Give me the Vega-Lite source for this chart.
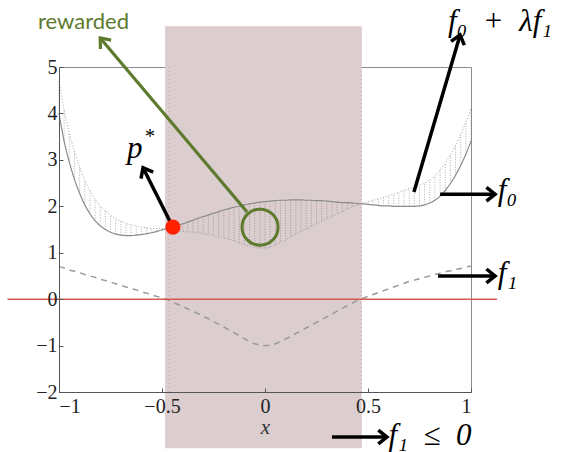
{
  "$schema": "https://vega.github.io/schema/vega-lite/v6.json",
  "width": 412,
  "height": 325,
  "autosize": {"type": "none"},
  "padding": {"left": 59, "top": 67, "right": 96, "bottom": 60},
  "background": "white",
  "config": {
    "view": {"stroke": "#8c8c8c", "strokeWidth": 1},
    "axis": {
      "grid": false,
      "domainColor": "#555555",
      "tickColor": "#555555",
      "tickSize": -4,
      "labelFont": "Liberation Serif",
      "labelFontSize": 20,
      "labelColor": "#222222",
      "titleFont": "Liberation Serif",
      "titleFontStyle": "italic",
      "titleFontWeight": "normal",
      "titleFontSize": 21,
      "titleColor": "#333333"
    }
  },
  "datasets": {
    "curves": [
      {"x": -1.000, "f0": 4.00, "f1": 0.70, "g": 4.70},
      {"x": -0.975, "f0": 3.40, "f1": 0.67, "g": 4.07},
      {"x": -0.950, "f0": 2.95, "f1": 0.63, "g": 3.58},
      {"x": -0.925, "f0": 2.58, "f1": 0.60, "g": 3.18},
      {"x": -0.900, "f0": 2.28, "f1": 0.57, "g": 2.85},
      {"x": -0.875, "f0": 2.03, "f1": 0.53, "g": 2.56},
      {"x": -0.850, "f0": 1.84, "f1": 0.50, "g": 2.34},
      {"x": -0.825, "f0": 1.69, "f1": 0.47, "g": 2.16},
      {"x": -0.800, "f0": 1.58, "f1": 0.43, "g": 2.01},
      {"x": -0.775, "f0": 1.50, "f1": 0.40, "g": 1.90},
      {"x": -0.750, "f0": 1.44, "f1": 0.37, "g": 1.81},
      {"x": -0.725, "f0": 1.40, "f1": 0.33, "g": 1.73},
      {"x": -0.700, "f0": 1.38, "f1": 0.30, "g": 1.68},
      {"x": -0.675, "f0": 1.37, "f1": 0.26, "g": 1.63},
      {"x": -0.650, "f0": 1.37, "f1": 0.23, "g": 1.60},
      {"x": -0.625, "f0": 1.38, "f1": 0.20, "g": 1.58},
      {"x": -0.600, "f0": 1.39, "f1": 0.16, "g": 1.55},
      {"x": -0.575, "f0": 1.41, "f1": 0.13, "g": 1.54},
      {"x": -0.550, "f0": 1.43, "f1": 0.09, "g": 1.52},
      {"x": -0.525, "f0": 1.46, "f1": 0.06, "g": 1.52},
      {"x": -0.500, "f0": 1.49, "f1": 0.03, "g": 1.52},
      {"x": -0.475, "f0": 1.52, "f1": -0.01, "g": 1.51},
      {"x": -0.450, "f0": 1.55, "f1": -0.06, "g": 1.49},
      {"x": -0.425, "f0": 1.59, "f1": -0.11, "g": 1.48},
      {"x": -0.400, "f0": 1.62, "f1": -0.16, "g": 1.46},
      {"x": -0.375, "f0": 1.66, "f1": -0.21, "g": 1.45},
      {"x": -0.350, "f0": 1.70, "f1": -0.26, "g": 1.44},
      {"x": -0.325, "f0": 1.74, "f1": -0.31, "g": 1.43},
      {"x": -0.300, "f0": 1.78, "f1": -0.37, "g": 1.41},
      {"x": -0.275, "f0": 1.81, "f1": -0.42, "g": 1.39},
      {"x": -0.250, "f0": 1.85, "f1": -0.48, "g": 1.37},
      {"x": -0.225, "f0": 1.88, "f1": -0.54, "g": 1.34},
      {"x": -0.200, "f0": 1.92, "f1": -0.60, "g": 1.32},
      {"x": -0.175, "f0": 1.95, "f1": -0.66, "g": 1.29},
      {"x": -0.150, "f0": 1.98, "f1": -0.72, "g": 1.26},
      {"x": -0.125, "f0": 2.00, "f1": -0.79, "g": 1.21},
      {"x": -0.100, "f0": 2.03, "f1": -0.85, "g": 1.18},
      {"x": -0.075, "f0": 2.05, "f1": -0.91, "g": 1.14},
      {"x": -0.050, "f0": 2.07, "f1": -0.96, "g": 1.11},
      {"x": -0.025, "f0": 2.09, "f1": -0.99, "g": 1.10},
      {"x": 0.000, "f0": 2.10, "f1": -1.00, "g": 1.10},
      {"x": 0.025, "f0": 2.11, "f1": -0.99, "g": 1.12},
      {"x": 0.050, "f0": 2.12, "f1": -0.96, "g": 1.16},
      {"x": 0.075, "f0": 2.13, "f1": -0.91, "g": 1.22},
      {"x": 0.100, "f0": 2.13, "f1": -0.86, "g": 1.27},
      {"x": 0.125, "f0": 2.14, "f1": -0.80, "g": 1.34},
      {"x": 0.150, "f0": 2.14, "f1": -0.74, "g": 1.40},
      {"x": 0.175, "f0": 2.14, "f1": -0.68, "g": 1.46},
      {"x": 0.200, "f0": 2.13, "f1": -0.62, "g": 1.51},
      {"x": 0.225, "f0": 2.13, "f1": -0.56, "g": 1.57},
      {"x": 0.250, "f0": 2.12, "f1": -0.50, "g": 1.62},
      {"x": 0.275, "f0": 2.12, "f1": -0.44, "g": 1.68},
      {"x": 0.300, "f0": 2.11, "f1": -0.38, "g": 1.73},
      {"x": 0.325, "f0": 2.10, "f1": -0.32, "g": 1.78},
      {"x": 0.350, "f0": 2.09, "f1": -0.26, "g": 1.83},
      {"x": 0.375, "f0": 2.08, "f1": -0.20, "g": 1.88},
      {"x": 0.400, "f0": 2.08, "f1": -0.14, "g": 1.94},
      {"x": 0.425, "f0": 2.07, "f1": -0.08, "g": 1.99},
      {"x": 0.450, "f0": 2.06, "f1": -0.03, "g": 2.03},
      {"x": 0.475, "f0": 2.05, "f1": 0.02, "g": 2.07},
      {"x": 0.500, "f0": 2.04, "f1": 0.06, "g": 2.10},
      {"x": 0.525, "f0": 2.03, "f1": 0.10, "g": 2.13},
      {"x": 0.550, "f0": 2.02, "f1": 0.14, "g": 2.16},
      {"x": 0.575, "f0": 2.01, "f1": 0.18, "g": 2.19},
      {"x": 0.600, "f0": 2.01, "f1": 0.22, "g": 2.23},
      {"x": 0.625, "f0": 2.00, "f1": 0.26, "g": 2.26},
      {"x": 0.650, "f0": 2.00, "f1": 0.30, "g": 2.30},
      {"x": 0.675, "f0": 2.00, "f1": 0.34, "g": 2.34},
      {"x": 0.700, "f0": 2.00, "f1": 0.38, "g": 2.38},
      {"x": 0.725, "f0": 2.00, "f1": 0.41, "g": 2.41},
      {"x": 0.750, "f0": 2.01, "f1": 0.44, "g": 2.45},
      {"x": 0.775, "f0": 2.03, "f1": 0.47, "g": 2.50},
      {"x": 0.800, "f0": 2.07, "f1": 0.50, "g": 2.57},
      {"x": 0.825, "f0": 2.13, "f1": 0.53, "g": 2.66},
      {"x": 0.850, "f0": 2.22, "f1": 0.56, "g": 2.78},
      {"x": 0.875, "f0": 2.34, "f1": 0.59, "g": 2.93},
      {"x": 0.900, "f0": 2.49, "f1": 0.61, "g": 3.10},
      {"x": 0.925, "f0": 2.67, "f1": 0.64, "g": 3.31},
      {"x": 0.950, "f0": 2.88, "f1": 0.66, "g": 3.54},
      {"x": 0.975, "f0": 3.12, "f1": 0.69, "g": 3.81},
      {"x": 1.000, "f0": 3.40, "f1": 0.71, "g": 4.11}
    ],
    "band": [{"x": -0.485, "x2": 0.47, "y": 5.88, "y2": -3.21}],
    "bandEdges": [{"x": -0.466, "y": -2, "y2": 5}, {"x": 0.466, "y": -2, "y2": 5}],
    "zeroLine": [{"x": -1.25, "x2": 1.126, "y": 0}],
    "arrows": [
      {"name": "lagrangian", "x": 0.723, "y": 2.31, "x2": 0.947, "y2": 5.69},
      {"name": "f0", "x": 0.85, "y": 2.26, "x2": 1.117, "y2": 2.26},
      {"name": "f1", "x": 0.84, "y": 0.50, "x2": 1.117, "y2": 0.50},
      {"name": "feasible", "x": 0.325, "y": -2.97, "x2": 0.592, "y2": -2.97},
      {"name": "optimum", "x": -0.447, "y": 1.55, "x2": -0.592, "y2": 2.83},
      {"name": "rewarded", "x": -0.087, "y": 1.875, "x2": -0.80, "y2": 5.625}
    ],
    "optimum": [{"x": -0.447, "y": 1.55}],
    "reward": [{"x": -0.024, "y": 1.55}],
    "math": [
      {"label": "f\u2080\u2002+\u2002\u03bbf\u2081", "x": 0.888, "y": 5.78},
      {"label": "f\u2080", "x": 1.13, "y": 2.13},
      {"label": "f\u2081", "x": 1.13, "y": 0.345},
      {"label": "f\u2081\u2002\u2264\u20020", "x": 0.60, "y": -3.15},
      {"label": "p", "x": -0.67, "y": 3.04}
    ],
    "star": [{"label": "*", "x": -0.558, "y": 3.49}],
    "note": [{"label": "rewarded", "x": -0.881, "y": 5.81}]
  },
  "encoding": {
    "x": {
      "field": "x",
      "type": "quantitative",
      "scale": {"domain": [-1, 1], "nice": false, "zero": false},
      "axis": {"values": [-1, -0.5, 0, 0.5, 1], "format": "~g", "title": "x", "labelPadding": 8, "titlePadding": 0, "zindex": 2}
    },
    "y": {
      "field": "y",
      "type": "quantitative",
      "scale": {"domain": [-2, 5], "nice": false, "zero": false},
      "axis": {"values": [-2, -1, 0, 1, 2, 3, 4, 5], "format": "~g", "title": null, "labelPadding": 6, "zindex": 2}
    }
  },
  "layer": [
    {
      "data": {"name": "band"},
      "mark": {"type": "rect", "color": "#dccdce", "clip": false},
      "encoding": {"x2": {"field": "x2"}, "y2": {"field": "y2"}}
    },
    {
      "data": {"name": "bandEdges"},
      "mark": {"type": "rule", "color": "#c4a9ac", "strokeWidth": 1, "strokeDash": [1, 3], "clip": false},
      "encoding": {"y2": {"field": "y2"}}
    },
    {
      "data": {"name": "curves"},
      "mark": {"type": "rule", "color": "#7a7a7a", "strokeWidth": 0.8, "strokeDash": [1, 1.5], "opacity": 0.75, "clip": false},
      "encoding": {"y": {"field": "f0", "type": "quantitative"}, "y2": {"field": "g"}}
    },
    {
      "data": {"name": "curves"},
      "mark": {"type": "line", "color": "#8a8a8a", "strokeWidth": 0.8, "strokeDash": [1, 2], "interpolate": "monotone", "clip": false},
      "encoding": {"y": {"field": "g", "type": "quantitative"}}
    },
    {
      "data": {"name": "curves"},
      "mark": {"type": "line", "color": "#8c8c8c", "strokeWidth": 1.2, "interpolate": "monotone", "clip": false},
      "encoding": {"y": {"field": "f0", "type": "quantitative"}}
    },
    {
      "data": {"name": "curves"},
      "mark": {"type": "line", "color": "#9a9a9a", "strokeWidth": 1.5, "strokeDash": [6, 5], "interpolate": "monotone", "clip": false},
      "encoding": {"y": {"field": "f1", "type": "quantitative"}}
    },
    {
      "data": {"name": "zeroLine"},
      "mark": {"type": "rule", "color": "#d65a4f", "strokeWidth": 1.5, "clip": false},
      "encoding": {"x2": {"field": "x2"}}
    },
    {
      "data": {"name": "arrows"},
      "transform": [{"filter": "datum.name !== 'rewarded'"}],
      "mark": {"type": "rule", "color": "black", "strokeWidth": 3.5, "clip": false},
      "encoding": {"x2": {"field": "x2"}, "y2": {"field": "y2"}}
    },
    {
      "data": {"name": "arrows"},
      "transform": [{"filter": "datum.name === 'rewarded'"}],
      "mark": {"type": "rule", "color": "#5d7a2e", "strokeWidth": 3.2, "clip": false},
      "encoding": {"x2": {"field": "x2"}, "y2": {"field": "y2"}}
    },
    {
      "data": {"name": "arrows"},
      "transform": [{"filter": "datum.name === 'f0' || datum.name === 'f1' || datum.name === 'feasible'"}],
      "mark": {"type": "point", "shape": "M-1,-0.8L0,0L-1,0.8", "filled": false, "stroke": "black", "strokeWidth": 3.5, "size": 300, "angle": 0, "opacity": 1, "clip": false},
      "encoding": {"x": {"field": "x2", "type": "quantitative"}, "y": {"field": "y2", "type": "quantitative"}}
    },
    {
      "data": {"name": "arrows"},
      "transform": [{"filter": "datum.name === 'lagrangian'"}],
      "mark": {"type": "point", "shape": "M-1,-0.8L0,0L-1,0.8", "filled": false, "stroke": "black", "strokeWidth": 3.5, "size": 300, "angle": 286, "opacity": 1, "clip": false},
      "encoding": {"x": {"field": "x2", "type": "quantitative"}, "y": {"field": "y2", "type": "quantitative"}}
    },
    {
      "data": {"name": "arrows"},
      "transform": [{"filter": "datum.name === 'optimum'"}],
      "mark": {"type": "point", "shape": "M-1,-0.8L0,0L-1,0.8", "filled": false, "stroke": "black", "strokeWidth": 3.5, "size": 300, "angle": 242, "opacity": 1, "clip": false},
      "encoding": {"x": {"field": "x2", "type": "quantitative"}, "y": {"field": "y2", "type": "quantitative"}}
    },
    {
      "data": {"name": "arrows"},
      "transform": [{"filter": "datum.name === 'rewarded'"}],
      "mark": {"type": "point", "shape": "M-1,-0.8L0,0L-1,0.8", "filled": false, "stroke": "#5d7a2e", "strokeWidth": 3.2, "size": 300, "angle": 230, "opacity": 1, "clip": false},
      "encoding": {"x": {"field": "x2", "type": "quantitative"}, "y": {"field": "y2", "type": "quantitative"}}
    },
    {
      "data": {"name": "optimum"},
      "mark": {"type": "point", "shape": "circle", "filled": true, "color": "#ff2200", "size": 230, "opacity": 1, "clip": false}
    },
    {
      "data": {"name": "reward"},
      "mark": {"type": "point", "shape": "circle", "filled": false, "stroke": "#5d7a2e", "strokeWidth": 3, "size": 1300, "opacity": 1, "clip": false}
    },
    {
      "data": {"name": "math"},
      "mark": {"type": "text", "font": "Liberation Serif", "fontStyle": "italic", "fontSize": 31, "align": "left", "baseline": "alphabetic", "color": "black", "clip": false},
      "encoding": {"text": {"field": "label"}}
    },
    {
      "data": {"name": "star"},
      "mark": {"type": "text", "font": "Liberation Serif", "fontSize": 20, "align": "center", "baseline": "middle", "color": "black", "clip": false},
      "encoding": {"text": {"field": "label"}}
    },
    {
      "data": {"name": "note"},
      "mark": {"type": "text", "font": "Lato", "fontSize": 22, "align": "center", "baseline": "alphabetic", "color": "#5d7a2e", "clip": false},
      "encoding": {"text": {"field": "label"}}
    }
  ]
}
